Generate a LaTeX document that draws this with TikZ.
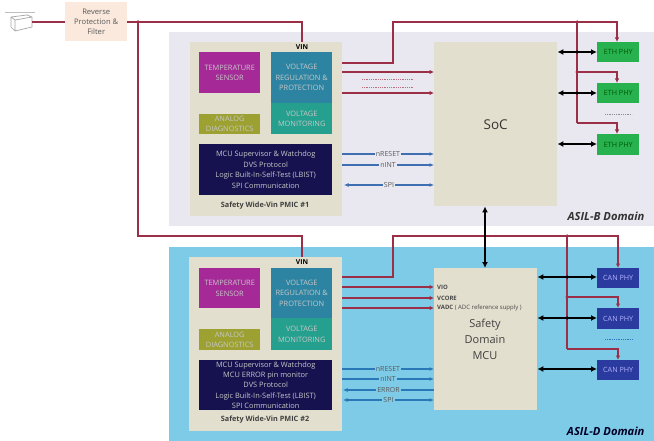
\documentclass[tikz,border=0pt]{standalone}
\usepackage{fontspec}
\setmainfont{Open Sans}
\usetikzlibrary{arrows.meta,positioning}
\definecolor{redline}{HTML}{9C2F48}
\definecolor{blueline}{HTML}{3F6FB0}
\definecolor{bluelineD}{HTML}{2A78B8}
\definecolor{bgB}{HTML}{E9E8F0}
\definecolor{bgD}{HTML}{7ECBE8}
\definecolor{beige}{HTML}{E3DFCE}
\definecolor{filtc}{HTML}{FAE9DC}
\definecolor{purpleb}{HTML}{A52A98}
\definecolor{tealb}{HTML}{2C84A2}
\definecolor{greenb}{HTML}{26A08E}
\definecolor{oliveb}{HTML}{9CA132}
\definecolor{navyb}{HTML}{15124F}
\definecolor{ethg}{HTML}{27B14F}
\definecolor{canb}{HTML}{2B3A9E}
\tikzset{
 x=1pt,y=-1pt,
 boxn/.style={draw=none,inner sep=0pt,align=center,anchor=north west},
 btxt/.style={font=\fontsize{7.4}{10.4}\selectfont,text=white!78!black},
 redw/.style={draw=redline,line width=1.2pt},
 reda/.style={redw,-{Latex[length=4.5pt,width=4.5pt]}},
 blu/.style={draw=blueline,line width=1.2pt,-{Latex[length=4.5pt,width=4pt]}},
 blub/.style={draw=blueline,line width=1.2pt,{Latex[length=4.5pt,width=4pt]}-{Latex[length=4.5pt,width=4pt]}},
 bluD/.style={draw=bluelineD,line width=1.2pt,-{Latex[length=4.5pt,width=4pt]}},
 bluDb/.style={draw=bluelineD,line width=1.2pt,{Latex[length=4.5pt,width=4pt]}-{Latex[length=4.5pt,width=4pt]}},
 bluDl/.style={draw=bluelineD,line width=1.2pt,{Latex[length=4.5pt,width=4pt]}-},
 blk/.style={draw=black,line width=1.5pt,{Latex[length=6pt,width=6pt]}-{Latex[length=6pt,width=6pt]}},
 lab/.style={font=\fontsize{7}{8}\selectfont,text=black!65,inner sep=1pt},
 dot/.style={circle,fill=#1,inner sep=0pt,minimum size=3.5pt},
 dotline/.style={draw=redline!70,line width=.7pt,dash pattern=on 1pt off .8pt},
 title/.style={font=\fontsize{7.3}{8}\selectfont\bfseries,text=black!75},
 dom/.style={font=\fontsize{11.2}{12}\selectfont\bfseries\itshape,anchor=east},
 phylab/.style={font=\fontsize{7.2}{8}\selectfont},
 vin/.style={font=\fontsize{6.8}{8}\selectfont\bfseries,inner sep=0pt},
 sup/.style={font=\fontsize{6}{7}\selectfont,anchor=west,inner sep=0pt,text=black!72},
}
\newcommand{\bx}[7]{% name, x1,y1,x2,y2, style, text
 \node[boxn,minimum width=#4pt-#2pt,minimum height=#5pt-#3pt,#6] (#1) at (#2,#3) {#7};}
\begin{document}
\begin{tikzpicture}
\useasboundingbox (0,0) rectangle (654,441);
\fill[white] (0,0) rectangle (654,441);
% domains
\bx{domB}{169}{32}{654}{226}{fill=bgB}{}
\bx{domD}{169}{247}{654}{441}{fill=bgD}{}
\node[dom,text=black!80] (domBt) at (648,216) {ASIL-B Domain};
\node[dom,text=black!85!blue] (domDt) at (648,431) {ASIL-D Domain};
% battery
\draw[gray!70,line width=.7pt,line join=round] (11,17) -- (27,15) -- (32,17) -- (32,27) -- (15,31) -- (11,27) -- cycle (11,17) -- (15,20) -- (32,17) (15,20) -- (15,31);
\draw[gray!50,line width=.6pt] (5,12) -- (35,12);
\coordinate (batt) at (32,22);
% input filter
\bx{filt}{65}{2}{127}{41}{fill=filtc,font=\fontsize{7.6}{10.2}\selectfont,text=black!65}{Reverse\\Protection \&\\Filter}
% PMIC 1
\bx{pa}{190}{42}{342}{216}{fill=beige}{}
\bx{tempA}{199}{52}{260}{93}{fill=purpleb,btxt}{TEMPERATURE\\SENSOR}
\bx{regA}{271}{52}{332}{103}{fill=tealb,btxt}{VOLTAGE\\REGULATION \&\\PROTECTION}
\bx{monA}{271}{103}{332}{134}{fill=greenb,btxt}{VOLTAGE\\MONITORING}
\bx{anaA}{199}{114}{260}{134}{fill=oliveb,btxt,font=\fontsize{7.4}{10}\selectfont}{ANALOG\\DIAGNOSTICS}
\bx{mcuA}{199}{144}{332}{195}{fill=navyb,btxt}{MCU Supervisor \& Watchdog\\DVS Protocol\\Logic Built-In-Self-Test (LBIST)\\SPI Communication}
\node[title] (tA) at (265,206) {Safety Wide-Vin PMIC \#1};
\node[vin] (vinA) at (302,47) {VIN};
% PMIC 2
\bx{pb}{189}{257}{342}{431}{fill=beige}{}
\bx{tempB}{199}{268}{260}{308}{fill=purpleb,btxt}{TEMPERATURE\\SENSOR}
\bx{regB}{271}{268}{332}{318}{fill=tealb,btxt}{VOLTAGE\\REGULATION \&\\PROTECTION}
\bx{monB}{271}{318}{332}{350}{fill=greenb,btxt}{VOLTAGE\\MONITORING}
\bx{anaB}{199}{329}{260}{350}{fill=oliveb,btxt,font=\fontsize{7.4}{10}\selectfont}{ANALOG\\DIAGNOSTICS}
\bx{mcuB}{199}{360}{332}{410}{fill=navyb,btxt}{MCU Supervisor \& Watchdog\\MCU ERROR pin monitor\\DVS Protocol\\Logic Built-In-Self-Test (LBIST)\\SPI Communication}
\node[title] (tB) at (265,420) {Safety Wide-Vin PMIC \#2};
\node[vin] (vinB) at (302,262) {VIN};
% SoC, MCU
\bx{soc}{434}{42}{557}{206}{fill=beige,font=\fontsize{13.5}{15}\selectfont,text=black!80}{SoC}
\bx{mcu}{434}{268}{537}{410}{fill=beige}{}
\node[font=\fontsize{11}{16}\selectfont,align=center,text=black!75] (mcut) at (485,339) {Safety\\Domain\\MCU};
\node[sup,font=\fontsize{6}{7}\selectfont\bfseries] (vio) at (437,287) {VIO};
\node[sup,font=\fontsize{6}{7}\selectfont\bfseries] (vcore) at (437,298) {VCORE};
\node[sup] (vadc) at (437,308) {\textbf{VADC} ( ADC reference supply )};
% PHYs
\bx{ea}{597}{42}{639}{62}{fill=ethg,phylab,text=green!35!black}{ETH PHY}
\bx{eb}{597}{83}{639}{103}{fill=ethg,phylab,text=green!35!black}{ETH PHY}
\bx{ec}{597}{134}{639}{155}{fill=ethg,phylab,text=green!35!black}{ETH PHY}
\bx{ca}{597}{268}{639}{288}{fill=canb,phylab,text=white!70!blue}{CAN PHY}
\bx{cb}{597}{308}{639}{329}{fill=canb,phylab,text=white!70!blue}{CAN PHY}
\bx{cc}{597}{360}{639}{380}{fill=canb,phylab,text=white!70!blue}{CAN PHY}
% helper coordinates
\coordinate (j0) at (138,22);
\coordinate (c1) at (138,236);
\coordinate (jB) at (577,22);
\coordinate (jD) at (567,236);
% power input
\draw[redw] (batt) -- (filt.west |- batt);
\draw[redw] (filt.east |- batt) -- (j0) -| (pa.north -| vinA);
\draw[redw] (j0) -- (c1) -| (pb.north -| vinB);
\node[dot=redline] (j0d) at (j0) {};
% SoC side power
\draw[reda] (342,63) -| (393,22) -| (617,42);
\draw[reda] (342,72) -- (soc.west |- 0,72);
\draw[reda] (342,93) -- (soc.west |- 0,93);
\draw[dotline] (362,79) -- (413,79);
\draw[dotline] (362,87) -- (413,87);
\draw[redw] (jB) -- (577,123);
\draw[reda] (577,72) -| (617,83);
\draw[reda] (577,123) -| (617,134);
\node[dot=redline] (jBd) at (jB) {};
\node[dot=redline] (jBe) at (577,72) {};
% ETH links
\draw[blk] (soc.east |- 0,52) -- (ea.west |- 0,52);
\draw[blk] (soc.east |- 0,93) -- (eb.west |- 0,93);
\draw[blk] (soc.east |- 0,144) -- (ec.west |- 0,144);
\node[dot=black] (kA) at (577,52) {};
\node[dot=black] (kB) at (577,93) {};
\draw[draw=black!45,line width=.8pt,dash pattern=on 1pt off .8pt] (605,114) -- (632,114);
% SoC blue
\draw[blu] (342,154) -- node[lab,fill=bgB] (l1) {nRESET} (soc.west |- 0,154);
\draw[blu] (342,165) -- node[lab,fill=bgB] (l2) {nINT} (soc.west |- 0,165);
\draw[blub] (344,185) -- node[lab,fill=bgB] (l3) {SPI} (soc.west |- 0,185);
% D power
\draw[reda] (342,277) -| (393,236) -| (618,268);
\draw[reda] (342,287) -- (mcu.west |- 0,287);
\draw[reda] (342,298) -- (mcu.west |- 0,298);
\draw[reda] (342,308) -- (mcu.west |- 0,308);
\draw[redw] (jD) -- (567,349);
\draw[reda] (567,297) -| (618,308);
\draw[reda] (567,349) -| (618,360);
\node[dot=redline] (jDd) at (jD) {};
\node[dot=redline] (jDe) at (567,297) {};
% CAN links
\draw[blk] (mcu.east |- 0,277) -- (ca.west |- 0,277);
\draw[blk] (mcu.east |- 0,318) -- (cb.west |- 0,318);
\draw[blk] (mcu.east |- 0,369) -- (cc.west |- 0,369);
\node[dot=black] (kC) at (567,277) {};
\node[dot=black] (kD) at (567,318) {};
\draw[draw=bluelineD,line width=.8pt,dash pattern=on 1pt off .8pt] (605,339) -- (633,339);
% MCU blue
\draw[bluD] (342,369) -- node[lab,fill=bgD] (m1) {nRESET} (mcu.west |- 0,369);
\draw[bluD] (342,379) -- node[lab,fill=bgD] (m2) {nINT} (mcu.west |- 0,379);
\draw[bluDl] (343,390) -- node[lab,fill=bgD] (m3) {ERROR} (mcu.west |- 0,390);
\draw[bluDb] (343,400) -- node[lab,fill=bgD] (m4) {SPI} (mcu.west |- 0,400);
% SoC - MCU
\draw[blk] (soc.south -| 485,206) -- (mcu.north -| 485,268);
\end{tikzpicture}
\end{document}
